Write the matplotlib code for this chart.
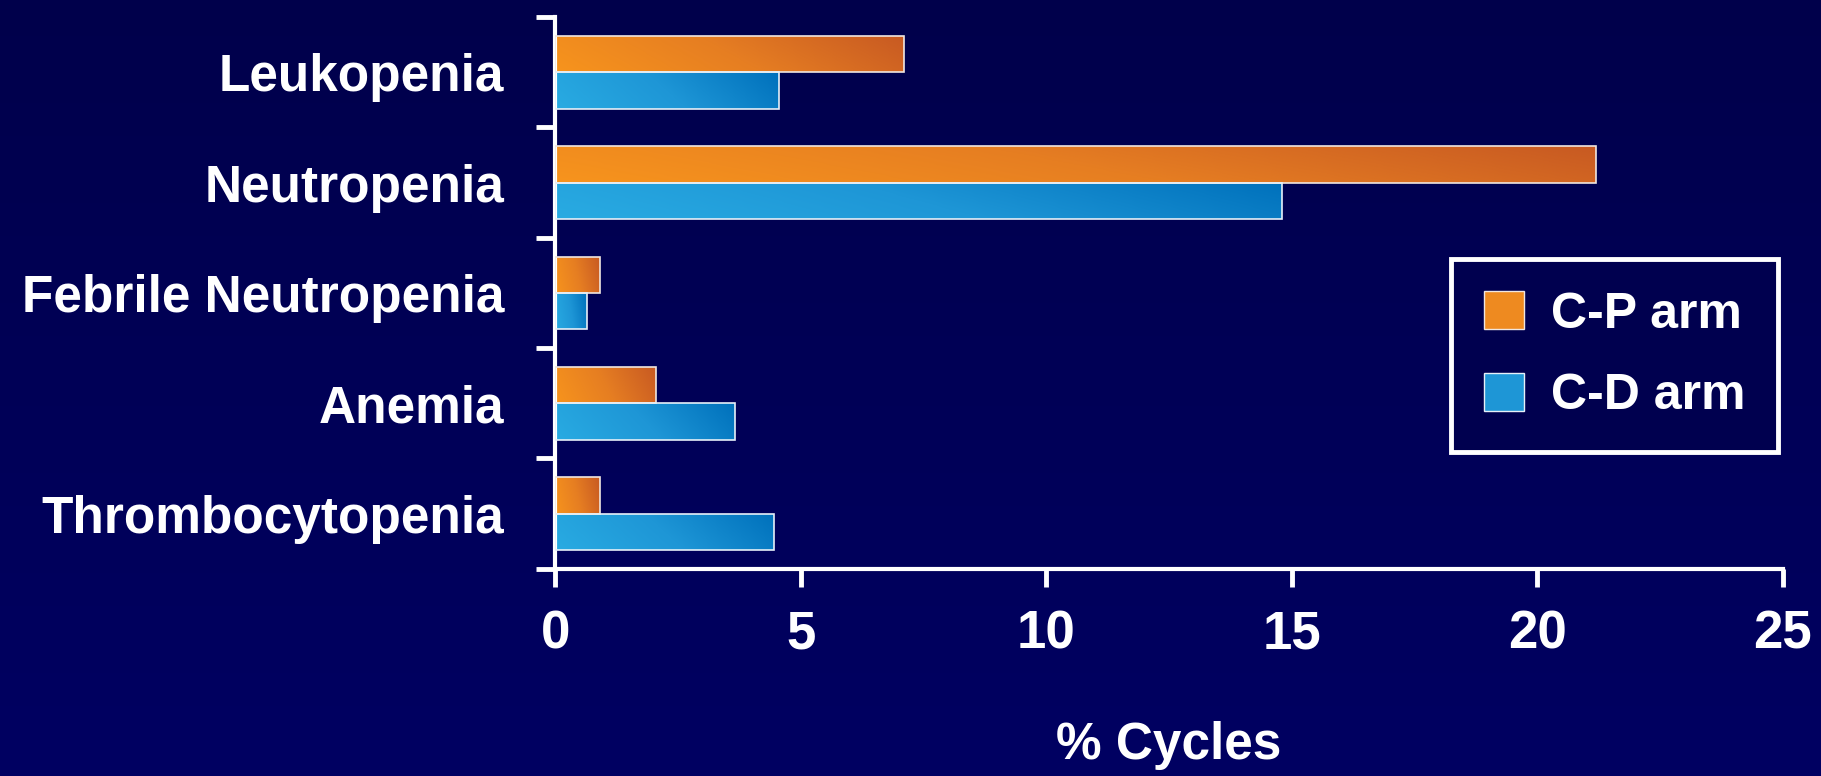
import numpy as np
import matplotlib
matplotlib.use("Agg")
import matplotlib.pyplot as plt
from matplotlib.colors import LinearSegmentedColormap
from matplotlib.patches import Patch

plt.rcParams['font.family'] = ['Liberation Sans', 'DejaVu Sans']
plt.rcParams['font.weight'] = 'bold'

# data
categories = ['Leukopenia', 'Neutropenia', 'Febrile Neutropenia', 'Anemia', 'Thrombocytopenia']
cp_arm = [7.1, 21.2, 0.9, 2.05, 0.9]
cd_arm = [4.55, 14.8, 0.65, 3.65, 4.45]
series_names = ['C-P arm', 'C-D arm']
x_ticks = [0, 5, 10, 15, 20, 25]

navy = '#00004F'
orange_cmap = LinearSegmentedColormap.from_list('orange', ['#F7941D', '#E67E22', '#C85A22'])
blue_cmap = LinearSegmentedColormap.from_list('blue', ['#29ABE2', '#1E96D6', '#0071BC'])

fig = plt.figure(figsize=(18.21, 7.76), dpi=100, facecolor=navy)

# background gradient, a bit lighter at the bottom
bg = fig.add_axes([0, 0, 1, 1], zorder=-10)
grad = np.linspace(0, 1, 256).reshape(-1, 1)
bg_cmap = LinearSegmentedColormap.from_list('bg', ['#00004B', '#000062'])
bg.imshow(grad, aspect='auto', cmap=bg_cmap, extent=(0, 1, 0, 1), origin='upper')
bg.axis('off')

ax = fig.add_axes([0.305, 0.267, 0.674, 0.711])
ax.set_facecolor('none')

y = np.arange(len(categories))
h = 0.33
bars_cp = ax.barh(y - h / 2, cp_arm, height=h, color='#EE8A20', edgecolor='#F0E6E0', linewidth=1.2, zorder=3)
bars_cd = ax.barh(y + h / 2, cd_arm, height=h, color='#1E96D6', edgecolor='#E6F0F8', linewidth=1.2, zorder=3)

# gradient fill inside each bar
xx, yy = np.meshgrid(np.linspace(0, 1, 200), np.linspace(0, 1, 20))
shade = 0.85 * xx + 0.15 * (1 - yy)
for bars, cmap in [(bars_cp, orange_cmap), (bars_cd, blue_cmap)]:
    for b in bars:
        x0, y0 = b.get_x(), b.get_y()
        w, hh = b.get_width(), b.get_height()
        im = ax.imshow(shade, cmap=cmap, aspect='auto', extent=(x0, x0 + w, y0 + hh, y0),
                       zorder=2.5, interpolation='bilinear')
        im.set_clip_path(b)
        b.set_facecolor('none')

ax.set_xlim(0, 25)
ax.set_ylim(len(categories) - 0.5, -0.5)

for side in ['top', 'right']:
    ax.spines[side].set_visible(False)
for side in ['left', 'bottom']:
    ax.spines[side].set_color('white')
    ax.spines[side].set_linewidth(3)

ax.set_yticks(y)
ax.set_yticklabels(categories)
ax.set_yticks(np.arange(-0.5, len(categories)), minor=True)
ax.tick_params(axis='y', which='major', length=0, pad=37, labelsize=37, labelcolor='white')
ax.tick_params(axis='y', which='minor', length=14, width=3.5, color='white', direction='out')

ax.set_xticks(x_ticks)
ax.tick_params(axis='x', length=13, width=3.5, color='white', pad=16, labelsize=38, labelcolor='white')

ax.set_xlabel('% Cycles', fontsize=37, color='white', fontweight='bold', va='center')
ax.xaxis.set_label_coords(0.5, -0.32)

handles = [Patch(facecolor='#EE8A20', edgecolor='#F0E6E0', lw=1),
           Patch(facecolor='#1E96D6', edgecolor='#E6F0F8', lw=1)]
leg = ax.legend(handles, series_names, loc='upper left', bbox_to_anchor=(0.73, 0.562),
                borderaxespad=0, fontsize=36, frameon=True, fancybox=False, framealpha=1,
                handlelength=0.8, handleheight=0.8, handletextpad=0.55,
                borderpad=0.65, labelspacing=0.7, labelcolor='white')
leg.get_frame().set_facecolor(navy)
leg.get_frame().set_edgecolor('white')
leg.get_frame().set_linewidth(3.5)

fig.savefig('out.png', dpi=100, facecolor=fig.get_facecolor())
